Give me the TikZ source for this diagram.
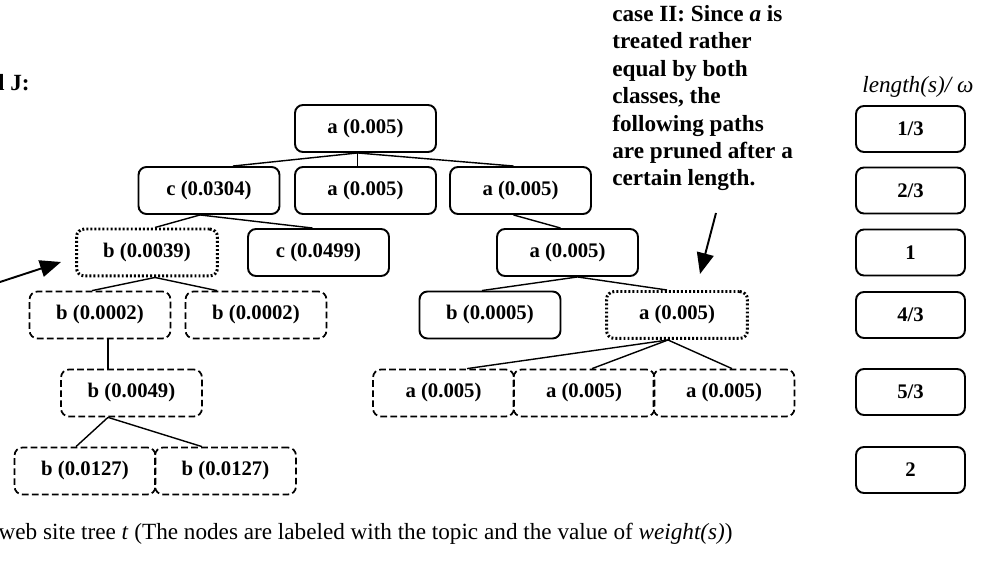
\documentclass[tikz,border=0pt]{standalone}
\usepackage{fontspec}
\setmainfont{Liberation Serif}
\usetikzlibrary{calc,arrows.meta}
\begin{document}
\begin{tikzpicture}[x=0.02cm,y=-0.02cm,
            box/.style={draw,rounded corners=0.16cm,line width=1.1pt,minimum width=2.82cm,minimum height=0.94cm,inner sep=0pt,font=\fontsize{11.8}{14}\selectfont\bfseries},
            dotbox/.style={box,line width=1.7pt,dash pattern=on 1.1pt off 1.2pt},
            dashbox/.style={box,line width=1pt,dash pattern=on 3.8pt off 1.9pt},
            lenbox/.style={box,minimum width=2.18cm,minimum height=0.92cm},
            edge/.style={line width=0.8pt},
            hint/.style={-{Triangle[length=0.42cm,width=0.34cm]},line width=1.1pt},
            txt/.style={inner sep=0pt}]
            \useasboundingbox (0,0) rectangle (988,567);

            \node[box] (A) at (365.5,128.5) {a (0.005)};
            \node[box] (C) at (209,190.5) {c (0.0304)};
            \node[box] (A1) at (365.5,190.5) {a (0.005)};
            \node[box] (A2) at (520.5,190.5) {a (0.005)};

            \node[dotbox] (B) at (147,252.5) {b (0.0039)};
            \node[box] (C1) at (318.5,252.5) {c (0.0499)};
            \node[box] (A3) at (567.5,252.5) {a (0.005)};

            \node[dashbox] (B1) at (100,315) {b (0.0002)};
            \node[dashbox] (B2) at (256,315) {b (0.0002)};
            \node[box] (B3) at (490,315) {b (0.0005)};
            \node[dotbox] (A4) at (677,315) {a (0.005)};

            \node[dashbox] (B4) at (131.5,393) {b (0.0049)};
            \node[dashbox] (A5) at (443.5,393) {a (0.005)};
            \node[dashbox] (A6) at (584,393) {a (0.005)};
            \node[dashbox] (A7) at (724,393) {a (0.005)};

            \node[dashbox] (B5) at (85,471) {b (0.0127)};
            \node[dashbox] (B6) at (225.5,471) {b (0.0127)};

            \foreach \y/\t [count=\i] in {129/{1/3},190.5/{2/3},252.5/1,315/{4/3},392/{5/3},470/2}
                \node[lenbox] (L\i) at (910.5,\y) {\t};

            \draw[edge] ($(A.south)+(-8,0)$) -- ($(C.north)+(24,0)$);
            \draw[edge] ($(A.south)+(-8,0)$) -- ($(A1.north)+(-8,0)$);
            \draw[edge] ($(A.south)+(-8,0)$) -- ($(A2.north)+(-7,0)$);
            \draw[edge] ($(C.south)+(-9,0)$) -- ($(B.north)+(8,0)$);
            \draw[edge] ($(C.south)+(-9,0)$) -- ($(C1.north)+(-6,0)$);
            \draw[edge] ($(A2.south)+(-7,0)$) -- ($(A3.north)+(-7,0)$);
            \draw[edge] ($(A3.south)+(10,0)$) -- ($(B3.north)+(-8,0)$);
            \draw[edge] ($(A3.south)+(10,0)$) -- ($(A4.north)+(-10,0)$);
            \draw[edge] ($(B.south)+(8,0)$) -- ($(B1.north)+(-8,0)$);
            \draw[edge] ($(B.south)+(8,0)$) -- ($(B2.north)+(-39,0)$);
            \draw[edge] ($(B1.south)+(8,0)$) -- ($(B4.north)+(-23.5,0)$);
            \draw[edge] ($(B4.south)+(-23.5,0)$) -- ($(B5.north)+(-9,0)$);
            \draw[edge] ($(B4.south)+(-23.5,0)$) -- ($(B6.north)+(-23.5,0)$);
            \draw[edge] ($(A4.south)+(-9,0)$) -- ($(A5.north)+(23.5,0)$);
            \draw[edge] ($(A4.south)+(-9,0)$) -- ($(A6.north)+(8,0)$);
            \draw[edge] ($(A4.south)+(-9,0)$) -- ($(A7.north)+(8,0)$);

            \coordinate (P) at (0,282);
            \coordinate (S) at (716,213);
            \draw[hint] (P) -- ($(B.west)+(-14,9.5)$);
            \draw[hint] (S) -- ($(A4.north)+(23,-16)$);

            \node[txt,anchor=base east,font=\fontsize{13.2}{15.6}\selectfont\bfseries] (J) at (30,91) {d J:};
            \node[txt,anchor=north west,align=left,font=\fontsize{13.2}{15.6}\selectfont\bfseries] (N) at (612,5) {case II: Since \textit{a} is\\treated rather\\equal by both\\classes, the\\following paths\\are pruned after a\\certain length.};
            \node[txt,anchor=base west,font=\fontsize{13.2}{15.6}\selectfont\itshape] (W) at (862,93) {length(s)/ ω};
            \node[txt,anchor=base east,font=\fontsize{13.2}{15.6}\selectfont] (T) at (733,540) {web site tree \textit{t} (The nodes are labeled with the topic and the value of \textit{weight(s)})};
          \end{tikzpicture}
\end{document}
